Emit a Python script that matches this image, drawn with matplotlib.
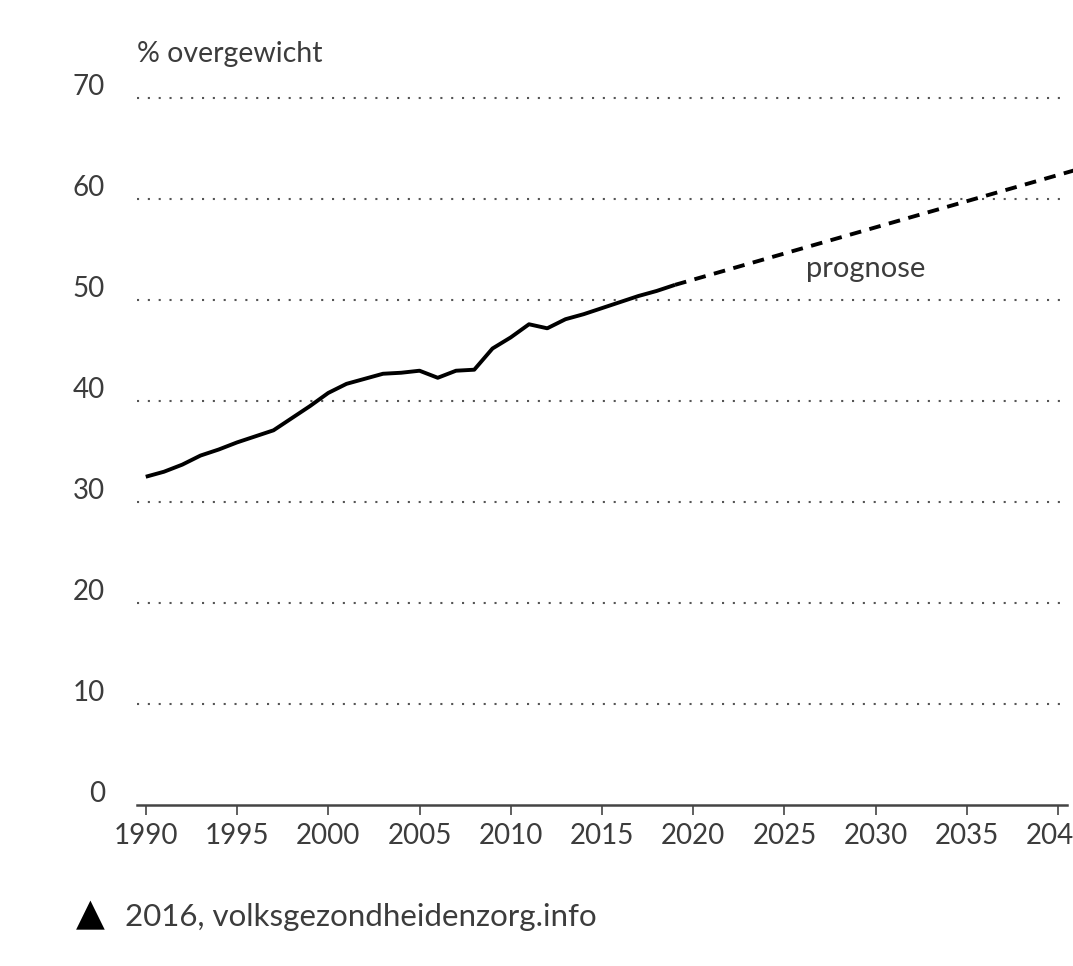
import matplotlib
matplotlib.use("Agg")
import matplotlib.pyplot as plt
from matplotlib.transforms import ScaledTranslation

plt.rcParams['font.family'] = ['Lato', 'DejaVu Sans']

# gemeten % overgewicht
jaren = list(range(1990, 2020))
overgewicht = [32.5, 33.0, 33.7, 34.6, 35.2, 35.9, 36.5, 37.1, 38.3, 39.5,
               40.8, 41.7, 42.2, 42.7, 42.8, 43.0, 42.3, 43.0, 43.1, 45.2,
               46.3, 47.6, 47.2, 48.1, 48.6, 49.2, 49.8, 50.4, 50.9, 51.5]
# prognose
prog_jaren = [2019, 2041]
prog_waarden = [51.5, 62.9]

yticks = [0, 10, 20, 30, 40, 50, 60, 70]
xticks = [1990, 1995, 2000, 2005, 2010, 2015, 2020, 2025, 2030, 2035, 2040]

W, H = 1073, 966
fig = plt.figure(figsize=(W/100, H/100), dpi=100)
ax = fig.add_axes([137/W, 1-805/H, (1067-137)/W, (805-95)/H])

tekst = '#3c3c3c'
for v in yticks[1:]:
    ax.axhline(v, color='#555555', lw=1.5, dashes=(1, 4.2), zorder=1)

ax.plot(jaren, overgewicht, color='black', lw=2.8, solid_capstyle='butt', zorder=3)
ax.plot(prog_jaren, prog_waarden, color='black', lw=2.8, dashes=(3.0, 2.2),
        clip_on=False, zorder=3)

ax.set_xlim(1989.52, 2040.48)
ax.set_ylim(0, 70.3)
for s in ['top', 'right', 'left']:
    ax.spines[s].set_visible(False)
ax.spines['bottom'].set_color('#444444')
ax.spines['bottom'].set_linewidth(1.8)

ax.set_xticks(xticks)
ax.set_xticklabels([str(v) for v in xticks])
ax.set_yticks(yticks)
ax.set_yticklabels([str(v) for v in yticks])
ax.tick_params(axis='x', direction='out', length=7, width=1.2, color='#444444',
               labelsize=20, labelcolor=tekst, pad=6)
ax.tick_params(axis='y', length=0, labelsize=20, labelcolor=tekst, pad=23)
for lbl in ax.get_yticklabels():
    lbl.set_transform(lbl.get_transform() + ScaledTranslation(0, 10/72, fig.dpi_scale_trans))

fig.text(137/W, 1-54/H, '% overgewicht', fontsize=20.5,
         color=tekst, va='center', ha='left')
ax.text(2026.2, 52.3, 'prognose', fontsize=21,
        color=tekst, ha='left', va='baseline')

fig.text(76/W, 1-915/H, '▲', fontsize=27, color='black', va='center', ha='left',
         family='DejaVu Sans')
fig.text(125/W, 1-917/H, '2016, volksgezondheidenzorg.info', fontsize=22.5,
         color=tekst, va='center', ha='left')

fig.savefig('out.png', dpi=100)
